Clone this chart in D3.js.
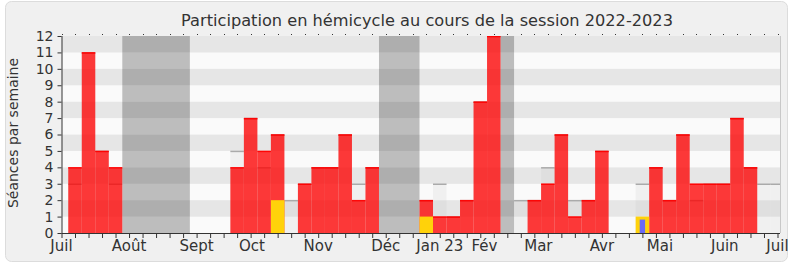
<!DOCTYPE html>
<html><head><meta charset="utf-8">
<script src="https://cdn.jsdelivr.net/npm/d3@7/dist/d3.min.js"></script>
<style>
body{margin:0;background:#fff;}
svg{display:block;font-family:'DejaVu Sans',sans-serif;}
</style></head><body>
<svg id="c" width="790" height="267"></svg>
<script>
// ---- data ----
const title = "Participation en hémicycle au cours de la session 2022-2023";
const yLabel = "Séances par semaine";
const weekCount = 54;
const presences   = [0,4,11,5,4,0,0,0,0,0,0,0,0,4,7,5,6,0,3,4,4,6,2,4,0,0,0,2,1,1,2,8,12,0,0,2,3,6,1,2,5,0,0,0,4,2,6,3,3,3,7,4,0,0];
const mediane     = [0,3,11,5,3,0,0,0,0,0,0,0,0,5,7,4,6,2,3,4,4,6,3,4,0,0,0,2,3,1,2,8,12,0,2,2,4,6,2,2,5,0,0,3,4,2,6,2,3,3,7,4,3,3];
const interventions = [0,0,0,0,0,0,0,0,0,0,0,0,0,0,0,0,2,0,0,0,0,0,0,0,0,0,0,1,0,0,0,0,0,0,0,0,0,0,0,0,0,0,0,1,0,0,0,0,0,0,0,0,0,0];
const questions   = [0,0,0,0,0,0,0,0,0,0,0,0,0,0,0,0,0,0,0,0,0,0,0,0,0,0,0,0,0,0,0,0,0,0,0,0,0,0,0,0,0,0,0,1,0,0,0,0,0,0,0,0,0,0];
const vacStart = [5,24,33];
const vacEnd   = [9,26,33];
const monthLabels = ["Juil","Août","Sept","Oct","Nov","Déc","Jan 23","Fév","Mar","Avr","Mai","Juin","Juil"];
const monthWeek   = [0,5,10,14.1,19,24,28,31.3,35.3,40,44.3,49.1,53];
const yTicks = [0,1,2,3,4,5,6,7,8,9,10,11,12];

// ---- layout ----
const svg = d3.select("#c");
const L = 61.5, R = 780, T = 36, B = 233;
const x = d3.scaleLinear().domain([0, weekCount-1]).range([L, 777.5]);
const step = x(1) - x(0);
const y = d3.scaleLinear().domain([0, 12]).range([B, T]);

svg.append("defs").append("clipPath").attr("id","plot")
  .append("rect").attr("x",L).attr("y",T).attr("width",R-L).attr("height",B-T);

svg.append("rect").attr("x",5.5).attr("y",1.5).attr("width",782).attr("height",260)
  .attr("rx",6).attr("fill","#f0f0f0").attr("stroke","#dcdcdc");

svg.append("text").attr("x",427).attr("y",26).attr("text-anchor","middle")
  .attr("font-size",16.2).attr("fill","#333").text(title);

// stripes
const g = svg.append("g").attr("clip-path","url(#plot)");
g.selectAll("rect.stripe").data(d3.range(0,12)).join("rect")
  .attr("x",L).attr("width",R-L)
  .attr("y",d=>y(d+1)).attr("height",d=>y(d)-y(d+1))
  .attr("fill",d=>d%2===1?"#e6e6e6":"#fafafa");

// vacations
g.selectAll("rect.vac").data(vacStart.map((s,i)=>[s,vacEnd[i]])).join("rect")
  .attr("x",d=>x(d[0])-step/2).attr("width",d=>(d[1]-d[0]+1)*step)
  .attr("y",y(12)).attr("height",y(0)-y(12))
  .attr("fill","#c1c1c1").style("mix-blend-mode","multiply");

// median (grey) bars
const idx = d3.range(weekCount);
g.selectAll("rect.med").data(idx.filter(i=>mediane[i]>0)).join("rect")
  .attr("x",i=>x(i)-step/2).attr("width",step)
  .attr("y",i=>y(mediane[i])).attr("height",i=>y(0)-y(mediane[i]))
  .attr("fill","rgba(190,190,190,0.15)");
g.selectAll("line.med").data(idx.filter(i=>mediane[i]>0)).join("line")
  .attr("x1",i=>x(i)-step/2).attr("x2",i=>x(i)+step/2)
  .attr("y1",i=>y(mediane[i])+0.5).attr("y2",i=>y(mediane[i])+0.5)
  .attr("stroke","#aaaaaa").attr("stroke-width",1.5);

// presences (red)
g.selectAll("rect.pres").data(idx.filter(i=>presences[i]>0)).join("rect")
  .attr("x",i=>x(i)-step/2).attr("width",step)
  .attr("y",i=>y(presences[i])).attr("height",i=>y(0)-y(presences[i]))
  .attr("fill","rgba(255,0,0,0.77)");
g.selectAll("line.pres").data(idx.filter(i=>presences[i]>0)).join("line")
  .attr("x1",i=>x(i)-step/2).attr("x2",i=>x(i)+step/2)
  .attr("y1",i=>y(presences[i])+0.5).attr("y2",i=>y(presences[i])+0.5)
  .attr("stroke","rgba(255,0,0,0.9)").attr("stroke-width",1.5);

// interventions (yellow)
g.selectAll("rect.int").data(idx.filter(i=>interventions[i]>0)).join("rect")
  .attr("x",i=>x(i)-step/2).attr("width",step)
  .attr("y",i=>y(interventions[i])).attr("height",i=>y(0)-y(interventions[i]))
  .attr("fill","#ffd20a");

// questions (blue)
g.selectAll("rect.q").data(idx.filter(i=>questions[i]>0)).join("rect")
  .attr("x",i=>x(i)-step*0.2).attr("width",step*0.4)
  .attr("y",i=>y(questions[i])+3).attr("height",i=>y(0)-y(questions[i])-3)
  .attr("fill","#6a6af5");

// right border
svg.append("line").attr("x1",R+0.5).attr("x2",R+0.5).attr("y1",T).attr("y2",B)
  .attr("stroke","#c8c8c8");

// top dots
svg.selectAll("line.topdot").data(idx).join("line")
  .attr("x1",i=>Math.round(x(i))+0.5).attr("x2",i=>Math.round(x(i))+0.5)
  .attr("y1",T-2).attr("y2",T-1).attr("stroke","#333");

// x axis
const xAxis = d3.axisBottom(x).tickValues(idx).tickSize(5).tickFormat("");
const xa = svg.append("g").attr("transform",`translate(0,${B})`).call(xAxis);
xa.select(".domain").attr("stroke","#333").attr("d",`M${L},0.5H${R}`);
xa.selectAll(".tick line").attr("stroke","#333");
svg.selectAll("text.month").data(monthLabels).join("text")
  .attr("x",(d,i)=>x(monthWeek[i])).attr("y",251)
  .attr("text-anchor","middle").attr("font-size",15).attr("fill","#333").text(d=>d);

// y axis
const yAxis = d3.axisLeft(y).tickValues(yTicks).tickSize(4).tickPadding(4);
const ya = svg.append("g").attr("transform",`translate(${L},0)`).call(yAxis);
ya.select(".domain").attr("stroke","#333").attr("d",`M0.5,${T}V${B}`);
ya.selectAll(".tick line").attr("stroke","#333");
ya.selectAll(".tick text").attr("font-size",14).attr("fill","#333")
  .attr("font-family","'DejaVu Sans',sans-serif");

svg.append("text").attr("transform","translate(18,133) rotate(-90)")
  .attr("text-anchor","middle").attr("font-size",14).attr("fill","#333").text(yLabel);
</script></body></html>
